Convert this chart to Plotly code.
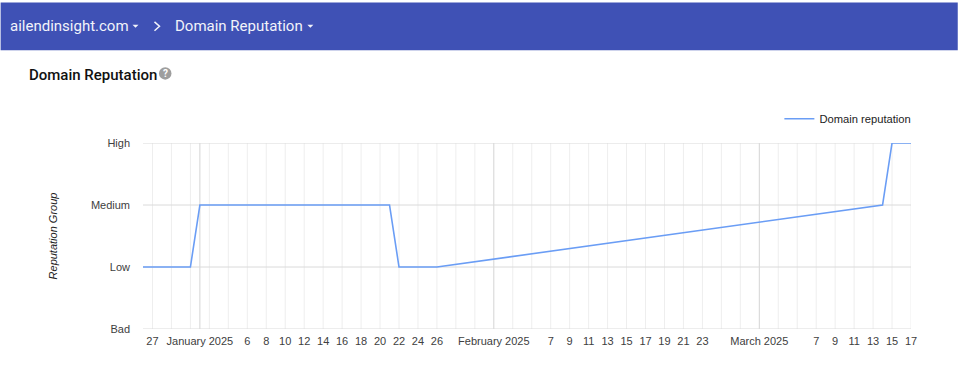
import plotly.graph_objects as go

# ---- data ----
dates = ["2024-12-26", "2024-12-31", "2025-01-01", "2025-01-21", "2025-01-22",
         "2025-01-26", "2025-03-14", "2025-03-15", "2025-03-17"]
reputation = [1, 1, 2, 2, 1, 1, 2, 3, 3]
y_values = [0, 1, 2, 3]
y_labels = ["Bad", "Low", "Medium", "High"]
x_range = ["2024-12-26", "2025-03-17"]
month_starts = ["2025-01-01", "2025-02-01", "2025-03-01"]
x_ticks = ["2024-12-27", "2024-12-29", "2024-12-31", "2025-01-01", "2025-01-02", "2025-01-04", "2025-01-06",
           "2025-01-08", "2025-01-10", "2025-01-12", "2025-01-14", "2025-01-16", "2025-01-18",
           "2025-01-20", "2025-01-22", "2025-01-24", "2025-01-26", "2025-01-28", "2025-01-30",
           "2025-02-01", "2025-02-03", "2025-02-05", "2025-02-07", "2025-02-09", "2025-02-11",
           "2025-02-13", "2025-02-15", "2025-02-17", "2025-02-19", "2025-02-21", "2025-02-23",
           "2025-02-25", "2025-02-27", "2025-03-01", "2025-03-03", "2025-03-05", "2025-03-07",
           "2025-03-09", "2025-03-11", "2025-03-13", "2025-03-15", "2025-03-17"]
x_labels = ["27", "", "", "January 2025", "", "", "6", "8", "10", "12", "14", "16", "18",
            "20", "22", "24", "26", "", "", "February 2025", "", "", "7", "9", "11",
            "13", "15", "17", "19", "21", "23", "", "", "March 2025", "", "", "7",
            "9", "11", "13", "15", "17"]

W, H = 958, 392
L, R, T, B = 142.5, 911.2, 143, 329.5


def px(x):
    return (x - L) / (R - L)


def py(y):
    return (B - y) / (B - T)


def caret(cx, cy):
    return (f"M {px(cx-3)} {py(cy-1.5)} L {px(cx+3)} {py(cy-1.5)} L {px(cx)} {py(cy+1.5)} Z")


shapes = [
    dict(type="rect", xref="paper", yref="paper", x0=px(0), x1=px(W), y0=py(2), y1=py(50),
         fillcolor="#3f51b5", line_width=0, layer="below"),
    dict(type="path", xref="paper", yref="paper", path=caret(135, 26), fillcolor="#f2f3fa", line_width=0),
    dict(type="path", xref="paper", yref="paper", path=caret(310, 26), fillcolor="#f2f3fa", line_width=0),
    dict(type="path", xref="paper", yref="paper",
         path=f"M {px(154)} {py(21.5)} L {px(159)} {py(26)} L {px(154)} {py(30.5)}",
         line=dict(color="#f2f3fa", width=1.5)),
    dict(type="circle", xref="paper", yref="paper", x0=px(158.5), x1=px(171), y0=py(67), y1=py(79.5),
         fillcolor="#9e9e9e", line_width=0),
]
for t in x_ticks:
    dark = t in month_starts
    shapes.append(dict(type="line", xref="x", yref="paper", x0=t, x1=t, y0=0, y1=1,
                       line=dict(color="#d4d4d4" if dark else "#eeeeee", width=1), layer="below"))
for v in y_values:
    shapes.append(dict(type="line", xref="paper", yref="y", x0=0, x1=1, y0=v, y1=v,
                       line=dict(color="#dadada", width=1), layer="below"))

annotations = [
    dict(text="ailendinsight.com", x=px(9.3), y=py(26), xanchor="left", yanchor="middle",
         font=dict(family="Roboto", size=15, color="#f2f3fa")),
    dict(text="Domain Reputation", x=px(175), y=py(26), xanchor="left", yanchor="middle",
         font=dict(family="Roboto", size=15, color="#f2f3fa")),
    dict(text="Domain Reputation", x=px(28.3), y=py(75), xanchor="left", yanchor="middle",
         font=dict(family="Roboto", size=15, color="#111111", weight=500)),
    dict(text="<b>?</b>", x=px(164.8), y=py(73.2), xanchor="center", yanchor="middle",
         font=dict(family="Roboto", size=10, color="#ffffff")),
]
for a in annotations:
    a.update(xref="paper", yref="paper", showarrow=False, borderpad=0, borderwidth=0)

fig = go.Figure(go.Scatter(x=dates, y=reputation, mode="lines", name="Domain reputation",
                           line=dict(color="#6a9df5", width=1.6), cliponaxis=False, showlegend=True))
fig.update_layout(
    width=W, height=H, autosize=False,
    margin=dict(l=L, r=W - R, t=T, b=H - B, pad=0),
    paper_bgcolor="white", plot_bgcolor="white",
    font=dict(family="Liberation Sans, Arial, sans-serif", size=11, color="#404040"),
    shapes=shapes, annotations=annotations,
    legend=dict(x=1.007, xanchor="right", y=1.13, yanchor="middle", bgcolor="rgba(0,0,0,0)", borderwidth=0,
                font=dict(size=11.2, color="#222222")),
    xaxis=dict(type="date", range=x_range, tickmode="array", tickvals=x_ticks, ticktext=x_labels,
               tickangle=0, ticks="", showline=False, zeroline=False, showgrid=False,
               ticklabelstandoff=4, tickfont=dict(size=11, color="#404040")),
    yaxis=dict(range=[0, 3], tickmode="array", tickvals=y_values, ticktext=y_labels, ticks="",
               showgrid=False, zeroline=False, showline=False, ticklabelstandoff=12,
               tickfont=dict(size=11, color="#404040"),
               title=dict(text="<i>Reputation Group</i>", standoff=31,
                          font=dict(size=11, color="#222222"))),
)
fig.write_html("out.html", config={"displayModeBar": False},
               post_script="document.body.style.margin='0';document.body.style.overflow='hidden';")
